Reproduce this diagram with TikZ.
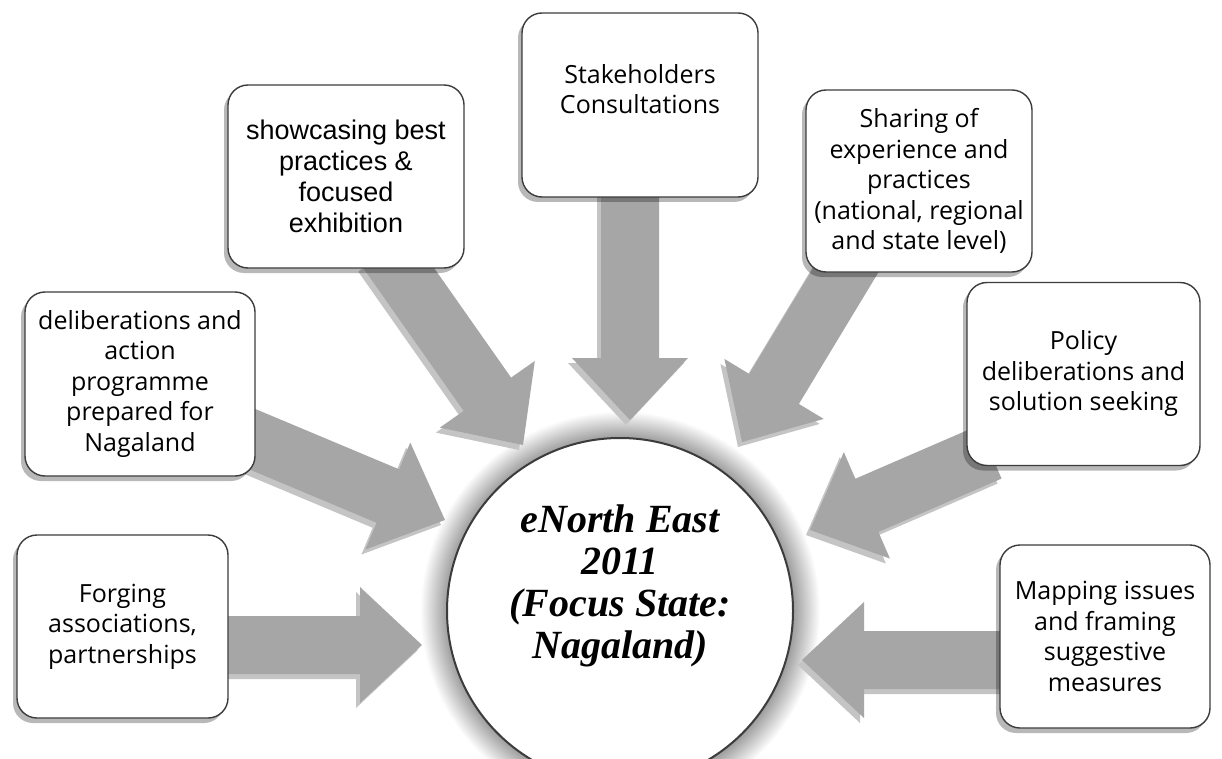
\documentclass[tikz,border=0pt]{standalone}
\usepackage{fontspec}
\setmainfont{Open Sans}
\newfontfamily\arialf{Liberation Sans}
\newfontfamily\centerf{Liberation Serif}
\usetikzlibrary{calc,shadows}
\definecolor{arrowgray}{HTML}{A6A6A6}
\definecolor{arrowshadow}{HTML}{C4C4C4}
\definecolor{boxline}{HTML}{3C3C3C}
\pgfdeclareradialshading{glow}{\pgfpoint{0bp}{0bp}}{color(0bp)=(black!40); color(21.5bp)=(black!40); color(25bp)=(white); color(50bp)=(white)}
\newcommand\blockarrow[3]{%
  \coordinate (#1h) at ($(#3)!62pt!(#2)$);
  \begin{scope}[transform canvas={xshift=-4pt,yshift=-5pt}]
  \fill[arrowshadow] ($(#2)!29pt!90:(#3)$) -- ($(#1h)!29pt!90:(#3)$) -- ($(#1h)!58pt!90:(#3)$) -- (#3) -- ($(#1h)!58pt!-90:(#3)$) -- ($(#1h)!29pt!-90:(#3)$) -- ($(#2)!29pt!-90:(#3)$) -- cycle;
  \end{scope}
  \fill[arrowgray] ($(#2)!29pt!90:(#3)$) -- ($(#1h)!29pt!90:(#3)$) -- ($(#1h)!58pt!90:(#3)$) -- (#3) -- ($(#1h)!58pt!-90:(#3)$) -- ($(#1h)!29pt!-90:(#3)$) -- ($(#2)!29pt!-90:(#3)$) -- cycle;
}
\tikzset{
  boxnode/.style={draw=boxline, line width=1.4pt, fill=white, rounded corners=20pt,
    drop shadow={shadow xshift=-4pt, shadow yshift=-5pt, fill=black, opacity=0.28},
    align=center, inner sep=0pt, font=\fontsize{25}{30.5}\selectfont},
  boxtext/.style={align=center, inner sep=0pt, font=\fontsize{25}{30}\selectfont},
  hubnode/.style={circle, draw=boxline, line width=2pt, fill=white, inner sep=0pt, minimum size=346pt},
  hubtext/.style={align=center, inner sep=0pt, font=\centerf\bfseries\itshape\fontsize{40}{42}\selectfont}
}
\begin{document}
\begin{tikzpicture}[x=1pt,y=-1pt]
\path[use as bounding box] (0,0) rectangle (1222,759);
\clip (0,0) rectangle (1222,759);
\fill[white] (0,0) rectangle (1222,759);
% glow round the hub
\shade[shading=glow] (620,611) circle (200pt);
% arrow end points
\coordinate (sA) at (215,645);  \coordinate (tA) at (422,645);
\coordinate (sB) at (1010,660); \coordinate (tB) at (802,660);
\coordinate (sC) at (630,185);  \coordinate (tC) at (630,420);
\coordinate (sD) at (386,250);  \coordinate (tD) at (523,445);
\coordinate (sE) at (240,434);  \coordinate (tE) at (445,520);
\coordinate (sF) at (855,255);  \coordinate (tF) at (742,442);
\coordinate (sG) at (990,452);  \coordinate (tG) at (810,530);
\blockarrow{A}{sA}{tA}
\blockarrow{B}{sB}{tB}
\blockarrow{C}{sC}{tC}
\blockarrow{D}{sD}{tD}
\blockarrow{E}{sE}{tE}
\blockarrow{F}{sF}{tF}
\blockarrow{G}{sG}{tG}
% hub
\node[hubnode] (hub) at (620,611) {};
\node[hubtext] (hubtxt) at (620,586) {eNorth East\\2011\\(Focus State:\\Nagaland)};
% boxes
\node[boxnode, minimum width=236pt, minimum height=184pt] (stk) at (640,105) {};
\node[boxtext] (stktxt) at (640,89) {Stakeholders\\Consultations};
\node[boxnode, minimum width=236pt, minimum height=183pt, font=\arialf\fontsize{27}{31}\selectfont] (show) at (346,176.5) {showcasing best\\practices \&\\focused\\exhibition};
\node[boxnode, minimum width=226pt, minimum height=182pt] (share) at (919,181) {Sharing of\\experience and\\practices\\(national, regional\\and state level)};
\node[boxnode, minimum width=230pt, minimum height=184pt] (delib) at (140,384) {deliberations and\\action\\programme\\prepared for\\Nagaland};
\node[boxnode, minimum width=233pt, minimum height=183pt] (policy) at (1083.5,374) {Policy\\deliberations and\\solution seeking};
\node[boxnode, minimum width=211pt, minimum height=183pt] (forg) at (122.5,626.5) {Forging\\associations,\\partnerships};
\node[boxnode, minimum width=210pt, minimum height=183pt] (map) at (1105,636.5) {Mapping issues\\and framing\\suggestive\\measures};
\end{tikzpicture}
\end{document}
